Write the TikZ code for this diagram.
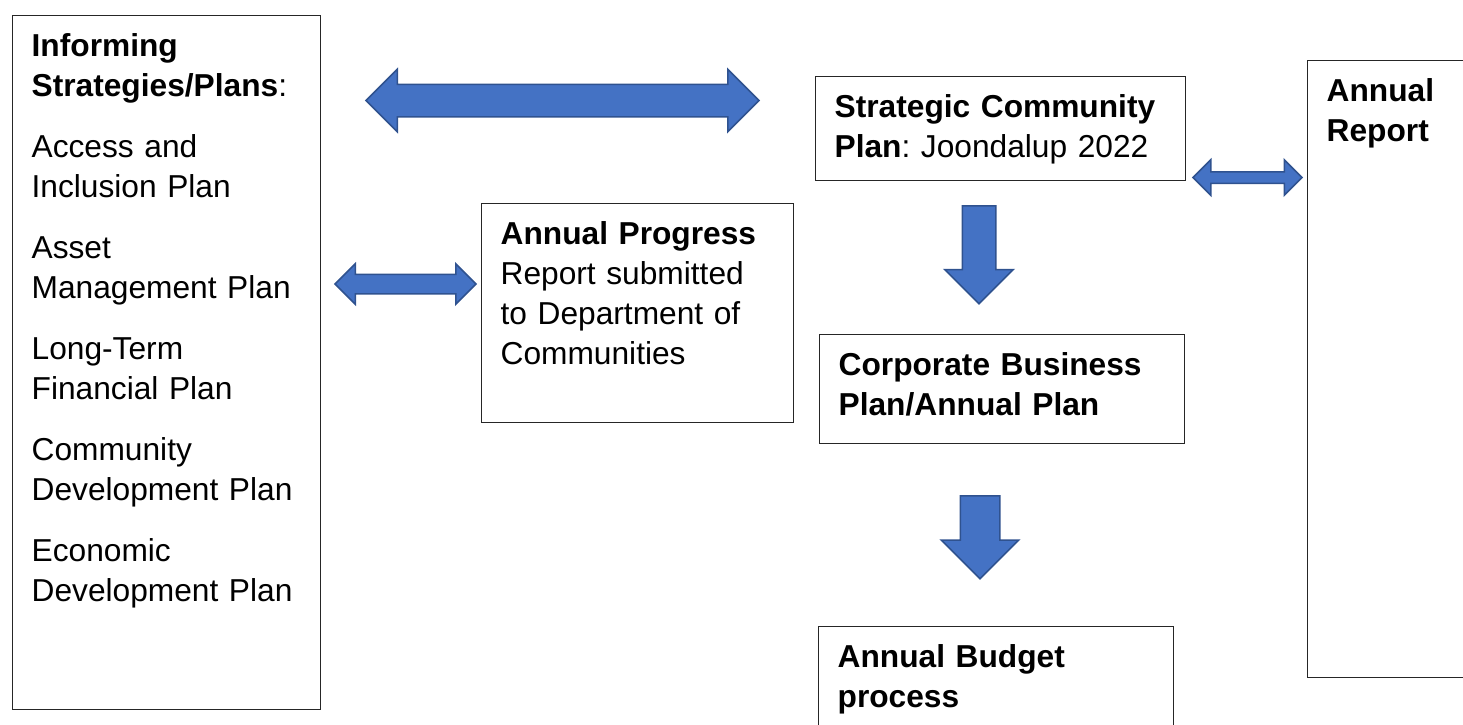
\documentclass[tikz,border=0pt]{standalone}
\usepackage{fontspec}
\setmainfont{Liberation Sans}
\usepackage{tikz}
\usetikzlibrary{shapes.arrows}

\definecolor{arrowBlue}{HTML}{4472C4}
\definecolor{arrowEdge}{HTML}{2F528F}

\begin{document}
\frenchspacing
\begin{tikzpicture}[x=1pt, y=-1pt,
  plan/.style={rectangle, draw=black!85, line width=1.3pt, anchor=north west,
    align=left, inner xsep=19pt, inner ysep=18pt, text height=23pt,
    font=\fontsize{31.7}{40}\selectfont},
  %
  twoway/.style={double arrow, draw=arrowEdge, fill=arrowBlue, line width=1.5pt,
    double arrow tip angle=90, inner xsep=0pt},
  %
  oneway/.style={single arrow, draw=arrowEdge, fill=arrowBlue, line width=1.5pt,
    single arrow tip angle=90, inner xsep=0pt, rotate=-90, anchor=tail}
  ]

  \useasboundingbox (0,0) rectangle (1463,724);

  % planning documents
  \node [plan, text width=270pt, text depth=635pt] (informing) at (12,15) {%
    \textbf{Informing}\\ \textbf{Strategies/Plans}:\\[21pt]
    Access and\\ Inclusion Plan\\[21pt]
    Asset\\ Management Plan\\[21pt]
    Long-Term\\ Financial Plan\\[21pt]
    Community\\ Development Plan\\[21pt]
    Economic\\ Development Plan};
  \node [plan, text width=332pt, text depth=45pt] (strategicPlan) at (815,76)
    {\textbf{Strategic Community}\\ \textbf{Plan}: Joondalup 2022};
  \node [plan, text width=274pt, text depth=160pt] (progressReport) at (481,203)
    {\textbf{Annual Progress}\\ Report submitted\\ to Department of\\ Communities};
  \node [plan, text width=327pt, text depth=50pt] (corporatePlan) at (819,334)
    {\textbf{Corporate Business}\\ \textbf{Plan/Annual Plan}};
  \node [plan, text width=317pt, text depth=70pt] (budgetProcess) at (818,626)
    {\textbf{Annual Budget}\\ \textbf{process}};
  \node [plan, text width=170pt, text depth=558pt] (annualReport) at (1307,60)
    {\textbf{Annual}\\ \textbf{Report}};

  % block arrows
  \node [twoway, minimum height=393pt, inner ysep=15.5pt,
    double arrow head extend=15pt] (linkTop) at (562.5,100.5) {};
  \node [twoway, minimum height=109pt, inner ysep=5pt,
    double arrow head extend=12pt] (linkReport) at (1247.5,177.5) {};
  \node [twoway, minimum height=141pt, inner ysep=9pt,
    double arrow head extend=10.5pt] (linkProgress) at (405.5,284) {};
  \node [oneway, minimum height=98pt, inner ysep=16pt,
    single arrow head extend=17.5pt] (downCorporate) at (979,205) {};
  \node [oneway, minimum height=83pt, inner ysep=19pt,
    single arrow head extend=19pt] (downBudget) at (980,495) {};

\end{tikzpicture}
\end{document}
